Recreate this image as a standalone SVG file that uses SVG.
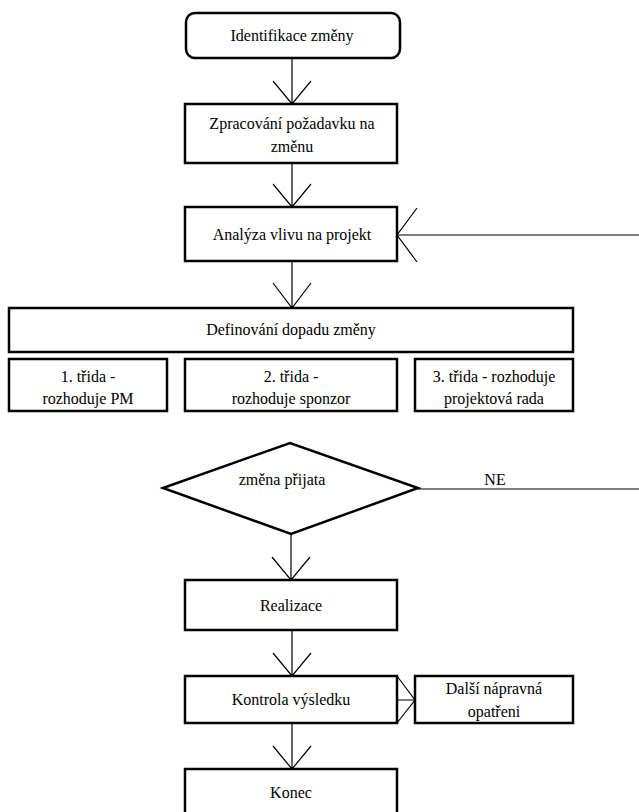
<svg xmlns="http://www.w3.org/2000/svg" width="639" height="812" viewBox="0 0 639 812" font-family="'Liberation Serif', 'Times New Roman', 'DejaVu Serif', serif">
<style>
.box{fill:#fff;stroke:#000;stroke-width:2.5}
.ln{fill:none;stroke:#000;stroke-width:1.2}
text{font-family:'Liberation Serif','Times New Roman','DejaVu Serif',serif;font-size:16px;fill:#000;text-anchor:middle}
</style>
<rect width="639" height="812" fill="#fff"/>
<g id="connectors">
<path class="ln" d="M292 58V104M273 81L292 104L311 81"/>
<path class="ln" d="M292 163V207M273 184L292 207L311 184"/>
<path class="ln" d="M292 261V308M273 283L292 308L311 283"/>
<path class="ln" d="M639 235H397M417 208L397 235L417 262"/>
<path class="ln" d="M418 489H639"/>
<path class="ln" d="M291 534V580M272 557L291 580L310 557"/>
<path class="ln" d="M292 630V676M273 653L292 676L311 653"/>
<path class="ln" d="M397 700H415M397 676L415 700L397 723"/>
<path class="ln" d="M292 723V769M273 746L292 769L311 746"/>
</g>
<g id="n1"><rect class="box" x="186" y="13" width="214" height="45" rx="9"/><text x="292" y="41">Identifikace změny</text></g>
<g id="n2"><rect class="box" x="185" y="104" width="212" height="59"/><text x="292" y="129">Zpracování požadavku na</text><text x="292" y="152">změnu</text></g>
<g id="n3"><rect class="box" x="185" y="207" width="212" height="54"/><text x="292" y="240">Analýza vlivu na projekt</text></g>
<g id="n4"><rect class="box" x="9" y="308" width="564" height="44"/><text x="291" y="335">Definování dopadu změny</text></g>
<g id="n5"><rect class="box" x="9" y="359" width="158" height="52"/><text x="88" y="382">1. třida -</text><text x="88" y="404">rozhoduje PM</text></g>
<g id="n6"><rect class="box" x="185" y="359" width="212" height="52"/><text x="291" y="382">2. třida -</text><text x="291" y="404">rozhoduje sponzor</text></g>
<g id="n7"><rect class="box" x="415" y="359" width="158" height="52"/><text x="494" y="382">3. třida - rozhoduje</text><text x="494" y="404">projektová rada</text></g>
<g id="n8"><polygon class="box" points="163,488 290,443 418,488 291,534"/><text x="282" y="485">změna přijata</text></g>
<text x="495" y="485">NE</text>
<g id="n9"><rect class="box" x="185" y="580" width="212" height="50"/><text x="291" y="611">Realizace</text></g>
<g id="n10"><rect class="box" x="185" y="676" width="212" height="47"/><text x="291" y="705">Kontrola výsledku</text></g>
<g id="n11"><rect class="box" x="415" y="676" width="158" height="47"/><text x="494" y="694">Další nápravná</text><text x="494" y="717">opatřeni</text></g>
<g id="n12"><rect class="box" x="185" y="769" width="212" height="50"/><text x="291" y="798">Konec</text></g>
</svg>
